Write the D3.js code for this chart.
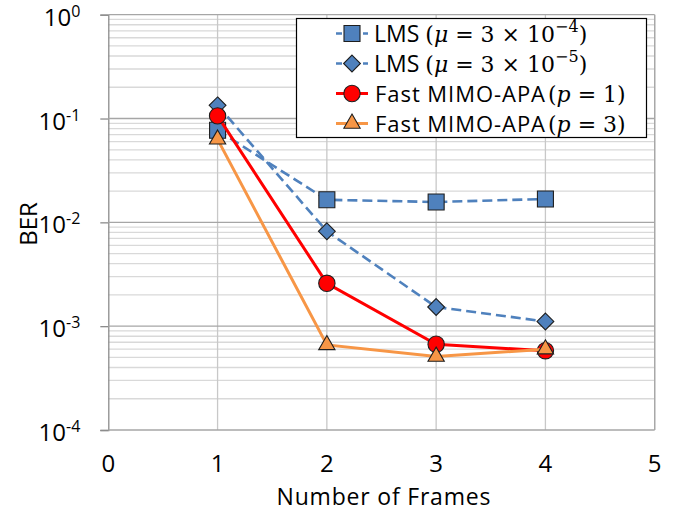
<!DOCTYPE html>
<html>
<head>
<meta charset="utf-8">
<script src="https://cdn.jsdelivr.net/npm/d3@7"></script>
<style>
  body { margin: 0; background: #fff; }
  text { font-family: "Open Sans", Lato, sans-serif; fill: #000; }
  .math { font-family: "DejaVu Serif", "Liberation Serif", serif; }
</style>
</head>
<body>
<div id="chart-area"></div>
<script>
// data
var frames = [1, 2, 3, 4];
var lmsBig = [0.077, 0.0165, 0.0157, 0.0168];     // LMS mu = 3e-4
var lmsSmall = [0.134, 0.0082, 0.00153, 0.00111]; // LMS mu = 3e-5
var apa1 = [0.106, 0.00259, 0.00067, 0.00058];    // Fast MIMO-APA p = 1
var apa3 = [0.063, 0.00066, 0.00051, 0.0006];     // Fast MIMO-APA p = 3
var xTicks = [0, 1, 2, 3, 4, 5];
var yExps = [0, -1, -2, -3, -4];

var margin = { top: 14.7, left: 108.3, right: 31.3, bottom: 82 },
	width = 686 - margin.left - margin.right,
	height = 512 - margin.top - margin.bottom;

var svg = d3.select('#chart-area').append('svg')
	.attr('width', 686)
	.attr('height', 512);

var g = svg.append('g')
	.attr('transform', 'translate(' + margin.left + ',' + margin.top + ')');

var x = d3.scaleLinear().domain([0, 5]).range([0, width]);
var y = d3.scaleLog().domain([1e-4, 1]).range([height, 0]);

// minor grid (2..9 in every decade)
var minor = [];
yExps.slice(0, 4).forEach(function (e) {
	for (var k = 2; k <= 9; k++) minor.push(k * Math.pow(10, e - 1));
});
g.selectAll('.minor').data(minor).enter().append('line')
	.attr('x1', 0).attr('x2', width)
	.attr('y1', d => y(d)).attr('y2', d => y(d))
	.attr('stroke', '#d9d9d9').attr('stroke-width', 1.3);

g.selectAll('.vgrid').data(xTicks.slice(1)).enter().append('line')
	.attr('x1', d => x(d)).attr('x2', d => x(d))
	.attr('y1', 0).attr('y2', height)
	.attr('stroke', '#c8c8c8').attr('stroke-width', 1.3);

// decade lines and y axis
var yAxis = d3.axisLeft(y)
	.tickValues(yExps.map(e => Math.pow(10, e)))
	.tickSize(8)
	.tickFormat('');
var yg = g.append('g').call(yAxis);
yg.select('.domain').attr('stroke', '#8c8c8c').attr('stroke-width', 1.3);
yg.selectAll('.tick line').attr('stroke', '#8c8c8c').attr('stroke-width', 1.3);

g.selectAll('.major').data(yExps).enter().append('line')
	.attr('x1', 0).attr('x2', width)
	.attr('y1', d => y(Math.pow(10, d))).attr('y2', d => y(Math.pow(10, d)))
	.attr('stroke', '#a6a6a6').attr('stroke-width', 1.3);

g.append('line')
	.attr('x1', width).attr('x2', width).attr('y1', 0).attr('y2', height)
	.attr('stroke', '#a6a6a6').attr('stroke-width', 1.3);

var ylab = g.selectAll('.ylab').data(yExps).enter().append('text')
	.attr('x', -28)
	.attr('y', d => y(Math.pow(10, d)) + 11)
	.attr('text-anchor', 'end')
	.attr('font-size', '24px');
ylab.append('tspan').text('10');
ylab.append('tspan').attr('dy', -9).attr('font-size', '16px').text(d => d === 0 ? '0' : '-' + (-d));

// x axis labels
g.selectAll('.xlab').data(xTicks).enter().append('text')
	.attr('x', d => x(d))
	.attr('y', height + 42.5)
	.attr('text-anchor', 'middle')
	.attr('font-size', '24px')
	.text(d => d);

g.append('text')
	.attr('x', width / 2 + 2)
	.attr('y', 505.5 - margin.top)
	.attr('text-anchor', 'middle')
	.attr('font-size', '23px')
	.attr('textLength', 214)
	.attr('lengthAdjust', 'spacing')
	.text('Number of Frames');

svg.append('text')
	.attr('transform', 'translate(37,224) rotate(-90)')
	.attr('text-anchor', 'middle')
	.attr('font-size', '24px')
	.text('BER');

// series
var series = [
	{ values: lmsBig, color: '#4f81bd', dash: '10,5', lw: 2.6, shape: d3.symbolSquare, size: 256, fill: '#4f81bd' },
	{ values: lmsSmall, color: '#4f81bd', dash: '10,5', lw: 2.6, shape: d3.symbolDiamond2, size: 180, fill: '#4f81bd' },
	{ values: apa1, color: '#ff0000', dash: null, lw: 3, shape: d3.symbolCircle, size: 210, fill: '#ff0000' },
	{ values: apa3, color: '#f79646', dash: null, lw: 3, shape: d3.symbolTriangle2, size: 190, fill: '#f79646' }
];

var line = d3.line().x(d => x(d[0])).y(d => y(d[1]));

series.forEach(function (s) {
	var pts = frames.map((f, i) => [f, s.values[i]]);
	g.append('path')
		.attr('d', line(pts))
		.attr('fill', 'none')
		.attr('stroke', s.color)
		.attr('stroke-width', s.lw)
		.attr('stroke-dasharray', s.dash);
	g.selectAll(null).data(pts).enter().append('path')
		.attr('d', d3.symbol().type(s.shape).size(s.size))
		.attr('transform', d => 'translate(' + x(d[0]) + ',' + y(d[1]) + ')')
		.attr('fill', s.fill)
		.attr('stroke', '#1e1e1e')
		.attr('stroke-width', 1.1);
});

// legend
var legend = svg.append('g');
legend.append('rect')
	.attr('x', 296.5).attr('y', 18.5).attr('width', 350).attr('height', 119)
	.attr('fill', '#fff').attr('stroke', '#000').attr('stroke-width', 1.2);

var rowsY = [33.5, 63.5, 93.5, 123.5];
series.forEach(function (s, i) {
	var ry = rowsY[i];
	legend.append('line')
		.attr('x1', 336).attr('x2', 368).attr('y1', ry).attr('y2', ry)
		.attr('stroke', s.color).attr('stroke-width', s.lw)
		.attr('stroke-dasharray', s.dash ? '6,3' : null);
	legend.append('path')
		.attr('d', d3.symbol().type(s.shape).size(s.size))
		.attr('transform', 'translate(352,' + ry + ')')
		.attr('fill', s.fill).attr('stroke', '#1e1e1e').attr('stroke-width', 1.1);
});

function lmsLabel(ry, exp) {
	var t = legend.append('text').attr('x', 374).attr('y', ry + 8).attr('font-size', '22px');
	t.append('tspan').attr('font-size', '23px').text('LMS ');
	t.append('tspan').attr('class', 'math').text('(');
	t.append('tspan').attr('class', 'math').attr('font-style', 'italic').text('μ');
	t.append('tspan').attr('class', 'math').text(' = 3 × 10');
	t.append('tspan').attr('class', 'math').attr('font-size', '16px').attr('dy', -10).text('−' + exp);
	t.append('tspan').attr('class', 'math').attr('dy', 10).text(')');
}
function apaLabel(ry, p) {
	legend.append('text').attr('x', 375).attr('y', ry + 8).attr('font-size', '22px')
		.attr('textLength', 170).attr('lengthAdjust', 'spacing')
		.text('Fast MIMO-APA');
	var t = legend.append('text').attr('x', 548).attr('y', ry + 8)
		.attr('class', 'math').attr('font-size', '22px');
	t.append('tspan').text('(');
	t.append('tspan').attr('font-style', 'italic').text('p');
	t.append('tspan').text(' = ' + p + ')');
}
lmsLabel(rowsY[0], 4);
lmsLabel(rowsY[1], 5);
apaLabel(rowsY[2], 1);
apaLabel(rowsY[3], 3);
</script>
</body>
</html>
